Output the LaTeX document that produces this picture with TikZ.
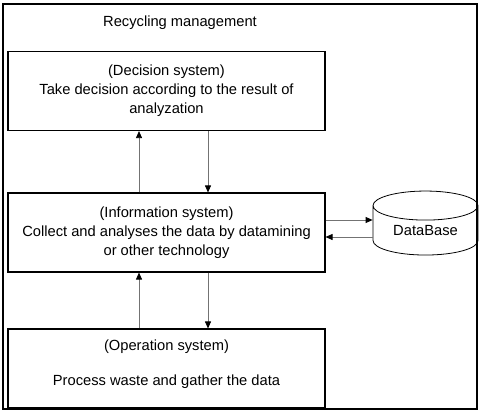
\documentclass[tikz,border=0pt]{standalone}
\usepackage{fontspec}
\setmainfont{Liberation Sans}
\usetikzlibrary{positioning,calc,shapes.geometric,arrows.meta}

\tikzset{
    sysbox/.style={draw, line width=1.1pt, minimum width=317pt, minimum height=79pt, align=center, inner sep=0pt},
    flow/.style={draw=black!55, line width=0.8pt, -{Triangle[black, length=7pt, width=6pt]}}
}

\begin{document}
\begin{tikzpicture}[x=1pt, y=-1pt, font=\fontsize{14.7}{19}\selectfont]
    \useasboundingbox (0,0) rectangle (481,412);
    \draw[line width=1.4pt] (3,4) rectangle (477,409);
    \node (title) at (180,23) {Recycling management};

    \node[sysbox] (dec) at (166.5,91) {(Decision system)\\Take decision according to the result of\\analyzation};
    \node[sysbox] (info) at (166.5,232.5) {(Information system)\\Collect and analyses the data by datamining\\or other technology};
    \node[sysbox] (op) at (166.5,368.5) {(Operation system)\\[16pt]Process waste and gather the data\\[-8pt]\mbox{}};
    \node[draw, line width=0.8pt, cylinder, shape border rotate=90, aspect=0.45,
          minimum width=105pt, minimum height=64pt, inner sep=0pt] (db) at (425.5,230.5) {DataBase};

    % vertical flows
    \coordinate (up) at (139,0);
    \coordinate (down) at (208,0);
    \draw[flow] (info.north -| up) -- (dec.south -| up);
    \draw[flow] (dec.south -| down) -- (info.north -| down);
    \draw[flow] (op.north -| up) -- (info.south -| up);
    \draw[flow] (info.south -| down) -- (op.north -| down);

    % database flows
    \coordinate (dbout) at (0,220);
    \coordinate (dbin) at (0,237);
    \draw[flow] (info.east |- dbout) -- (db.west |- dbout);
    \draw[flow] (db.west |- dbin) -- (info.east |- dbin);
\end{tikzpicture}
\end{document}
